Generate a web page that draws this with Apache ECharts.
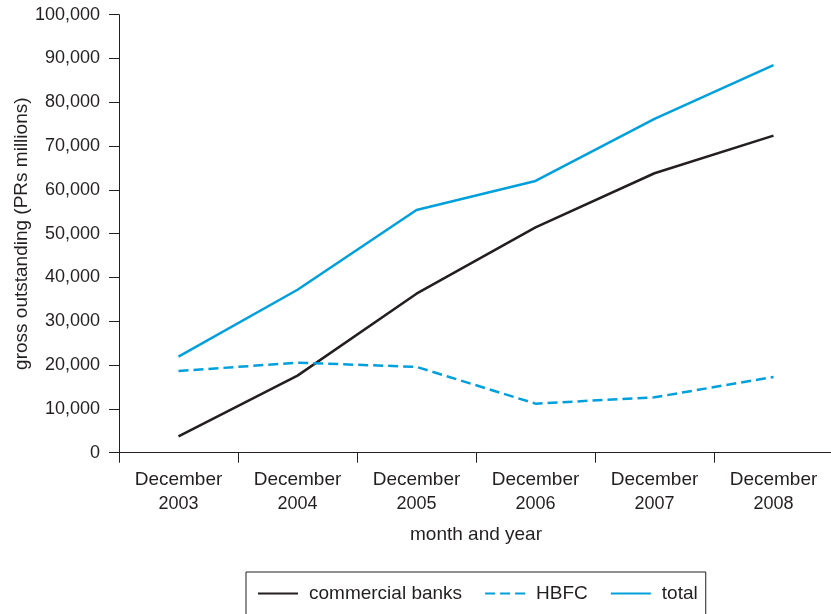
<!DOCTYPE html>
<html>
<head>
<meta charset="utf-8">
<script src="https://cdn.jsdelivr.net/npm/echarts@6/dist/echarts.min.js"></script>
<style>
html,body{margin:0;padding:0;background:#fff;}
#chart{width:831px;height:614px;}
</style>
</head>
<body>
<div id="chart"></div>
<script>
var categories = ['December 2003','December 2004','December 2005','December 2006','December 2007','December 2008'];
var commercialBanks = [3750, 17600, 36300, 51450, 63800, 72400];
var hbfc = [18650, 20550, 19600, 11200, 12650, 17300];
var total = [21950, 37200, 55400, 62050, 76200, 88500];
var yTicks = {min: 0, max: 100000, interval: 10000};

var INK = '#231f20';
var BLUE = '#00a0dc';
var WIDE = 'Liberation Sans, Arial, sans-serif';
var NUM = 'Liberation Sans, Arial, sans-serif';

var chart = echarts.init(document.getElementById('chart'), null, {renderer: 'canvas'});
chart.setOption({
  animation: false,
  backgroundColor: '#ffffff',
  grid: {left: 119, right: -2, top: 14.7, bottom: 161.3, containLabel: false, outerBoundsMode: 'none'},
  xAxis: {
    type: 'category',
    data: categories,
    boundaryGap: true,
    axisLine: {lineStyle: {color: INK, width: 1}},
    axisTick: {show: true, length: 10, lineStyle: {color: INK}},
    axisLabel: {
      margin: 15,
      interval: 0,
      formatter: function (v) {
        var p = v.split(' ');
        return '{a|' + p[0] + '}\n{b|' + p[1] + '}';
      },
      rich: {
        a: {fontFamily: WIDE, fontSize: 19, color: INK, lineHeight: 24},
        b: {fontFamily: NUM, fontSize: 18, color: INK, lineHeight: 24}
      }
    },
    name: 'month and year',
    nameLocation: 'middle',
    nameGap: 73,
    nameMoveOverlap: false,
    nameTextStyle: {fontFamily: WIDE, fontSize: 19, color: INK},
    splitLine: {show: false}
  },
  yAxis: {
    type: 'value',
    min: yTicks.min,
    max: yTicks.max,
    interval: yTicks.interval,
    axisLine: {show: true, lineStyle: {color: INK, width: 1}},
    axisTick: {show: true, length: 10, lineStyle: {color: INK}},
    axisLabel: {
      margin: 19,
      fontFamily: NUM,
      fontSize: 18,
      color: INK,
      formatter: function (v) { return v.toLocaleString('en-US'); }
    },
    splitLine: {show: false},
    name: 'gross outstanding (PRs millions)',
    nameLocation: 'middle',
    nameGap: 88,
    nameMoveOverlap: false,
    nameRotate: 90,
    nameTextStyle: {fontFamily: WIDE, fontSize: 19, color: INK}
  },
  legend: {
    left: 246,
    top: 572,
    orient: 'horizontal',
    itemWidth: 40,
    itemHeight: 18,
    itemGap: 22,
    padding: [12, 8, 16, 11],
    borderColor: INK,
    borderWidth: 1,
    itemStyle: {opacity: 0},
    textStyle: {fontFamily: WIDE, fontSize: 19, color: INK, padding: [0, 0, 0, 6]},
    data: ['commercial banks', 'HBFC', 'total']
  },
  series: [
    {
      name: 'commercial banks',
      type: 'line',
      data: commercialBanks,
      symbol: 'none',
      lineStyle: {color: INK, width: 2.5},
      itemStyle: {color: INK}
    },
    {
      name: 'HBFC',
      type: 'line',
      data: hbfc,
      symbol: 'none',
      lineStyle: {color: BLUE, width: 2.5, type: [10, 5]},
      itemStyle: {color: BLUE}
    },
    {
      name: 'total',
      type: 'line',
      data: total,
      symbol: 'none',
      lineStyle: {color: BLUE, width: 2.5},
      itemStyle: {color: BLUE}
    }
  ]
});
</script>
</body>
</html>
